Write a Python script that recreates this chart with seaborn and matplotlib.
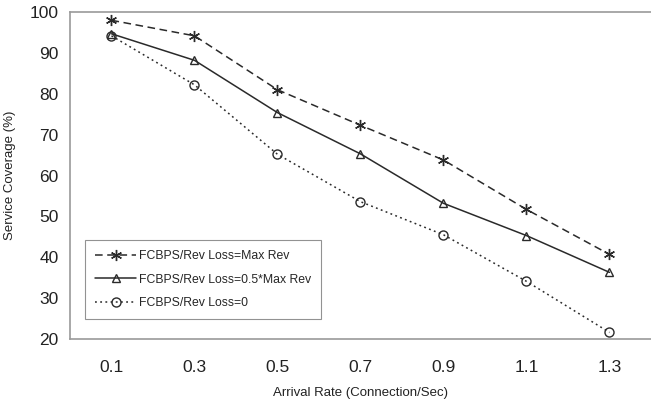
import matplotlib
matplotlib.use("Agg")
import matplotlib.pyplot as plt
import seaborn as sns
import pandas as pd
from matplotlib.ticker import MultipleLocator, FixedLocator

categories = ["0.1", "0.3", "0.5", "0.7", "0.9", "1.1", "1.3"]
max_rev = [98.0, 94.2, 81.0, 72.3, 63.8, 51.7, 40.7]
half_rev = [94.7, 88.2, 75.4, 65.3, 53.2, 45.3, 36.3]
zero_loss = [94.2, 82.2, 65.2, 53.6, 45.5, 34.1, 21.6]
labels = ["FCBPS/Rev Loss=Max Rev", "FCBPS/Rev Loss=0.5*Max Rev", "FCBPS/Rev Loss=0"]

sns.set_style("white")
plt.rcParams['font.family'] = ['Liberation Sans', 'DejaVu Sans']

fig = plt.figure(figsize=(6.51, 4.04), dpi=100)
ax = fig.add_axes([0.1075, 0.161, 0.8925, 0.809])

col = "#2a2a2a"
styles = [((0, (5, 3)), (6, 2, 0), 8),
          ("-", "^", 6),
          ((0, (1.2, 2.2)), "o", 6.5)]
series = [max_rev, half_rev, zero_loss]
for vals, lab, (ls, mk, ms) in zip(series, labels, styles):
    df = pd.DataFrame({"x": categories, "y": vals})
    sns.lineplot(data=df, x="x", y="y", ax=ax, color=col, linestyle=ls, linewidth=1.1,
                 marker=mk, markersize=ms, markerfacecolor="none", markeredgecolor=col,
                 markeredgewidth=1.0, label=lab, sort=False)

ax.set_xlim(-0.5, 6.5)
ax.set_ylim(20, 100)
ax.grid(False, which="both")
ax.yaxis.set_major_locator(MultipleLocator(10))
ax.xaxis.set_minor_locator(FixedLocator([i - 0.5 for i in range(7)]))
ax.tick_params(axis="x", which="major", length=0, labelsize=12.5, pad=15, colors="#222222")
ax.tick_params(axis="x", which="minor", length=4, width=1, color="#999999", direction="out")
ax.tick_params(axis="y", length=4, width=1, direction="out", labelsize=12.5, pad=4, right=False)
ax.tick_params(axis="y", colors="#999999", labelcolor="#222222")

for s in ["left", "bottom", "top"]:
    ax.spines[s].set_color("#9a9a9a")
    ax.spines[s].set_linewidth(1.2)
sns.despine(ax=ax, top=False, right=True)
ax.spines["right"].set_color("none")
ax.spines["right"].set_linewidth(0)

ax.set_xlabel("Arrival Rate (Connection/Sec)", fontsize=9.5, color="#222222", labelpad=9)
ax.set_ylabel("Service Coverage (%)", fontsize=9.5, color="#222222", labelpad=10)

leg = ax.legend(loc="upper left", bbox_to_anchor=(0.026, 0.302), fontsize=8.8, frameon=True,
                fancybox=False, edgecolor="#777777", handlelength=3.4, borderpad=0.8,
                labelspacing=0.95, handletextpad=0.2, borderaxespad=0.0)
leg.get_frame().set_linewidth(0.8)

fig.savefig("out.png", dpi=100)
